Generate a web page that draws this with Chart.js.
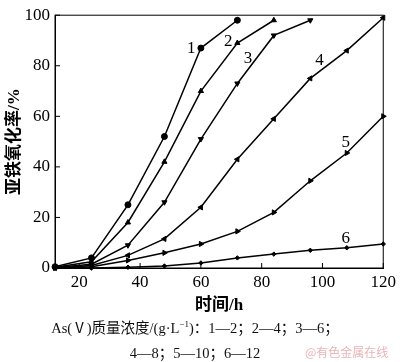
<!DOCTYPE html>
<html>
<head>
<meta charset="utf-8">
<script src="https://cdn.jsdelivr.net/npm/chart.js@4.4.1/dist/chart.umd.min.js"></script>
<style>
  body { margin: 0; background: #fff; }
  #wrap { position: relative; width: 400px; height: 362px; }
  .cap { position: absolute; left: 0; width: 390px; text-align: center; font-family: 'Liberation Serif', 'Noto Sans CJK SC', serif; font-size: 14.5px; color: #111; white-space: nowrap; }
  .cap sup { font-size: 9px; }
  #mark { position: absolute; left: 305px; top: 343px; font-family: 'Noto Sans CJK SC', sans-serif; font-size: 12px; color: #eab4b8; }
</style>
</head>
<body>
<div id="wrap">
  <canvas id="chart" width="400" height="362"></canvas>
  <div class="cap" style="top:316px">As(Ⅴ)质量浓度/(g·L<sup>−1</sup>)：1—2；2—4；3—6；</div>
  <div class="cap" style="top:341px">4—8；5—10；6—12</div>
  <div id="mark">@有色金属在线</div>
</div>
<script>
// time in hours
let hours = [12, 24, 36, 48, 60, 72, 84, 96, 108, 120];
let xTicks = [20, 40, 60, 80, 100, 120];

// ferrous oxidation rate (%) per As(V) concentration
let s1 = [0.5, 4, 25, 52, 87, 98];
let s2 = [0.3, 2.5, 18, 42, 70, 89, 98];
let s3 = [0.2, 1.5, 9, 26, 51, 73, 92, 98];
let s4 = [0, 1, 5, 11.5, 24, 43, 59, 75, 86, 99];
let s5 = [0, 0.5, 3, 6, 9.5, 14.5, 22, 34.5, 45.5, 60];
let s6 = [0, 0, 0.3, 0.8, 2, 4, 5.5, 7, 8, 9.5];

// curve numbers written beside the lines
let tagText = ['1', '2', '3', '4', '5', '6'];
let tagX = [56.8, 69, 75.5, 99, 107.7, 107.7];
let tagY = [86.7, 89.4, 83, 82, 49.6, 11.7];

let serif = "'Liberation Serif', 'Noto Sans CJK SC', serif";
Chart.defaults.font.family = serif;
Chart.defaults.color = '#000';

function pts(vals) {
    return vals.map(function(v, i) { return { x: hours[i], y: v }; });
}

function line(vals, style, rot, r) {
    return {
        data: pts(vals),
        borderColor: '#000',
        backgroundColor: '#000',
        borderWidth: 1.5,
        pointStyle: style,
        rotation: rot,
        pointRadius: r,
        pointBorderWidth: 1,
        clip: false,
        tension: 0
    };
}

let frame = {
    id: 'frame',
    afterDraw: function(chart) {
        let ctx = chart.ctx;
        let a = chart.chartArea;
        let xs = chart.scales.x;
        let ys = chart.scales.y;
        ctx.save();
        ctx.strokeStyle = '#000';
        ctx.lineWidth = 1;
        ctx.strokeRect(a.left, a.top, a.right - a.left, a.bottom - a.top);
        ctx.beginPath();
        xs.ticks.forEach(function(t) {
            let px = xs.getPixelForValue(t.value);
            ctx.moveTo(px, a.bottom);
            ctx.lineTo(px, a.bottom - 5);
        });
        ys.ticks.forEach(function(t) {
            let py = ys.getPixelForValue(t.value);
            ctx.moveTo(a.left, py);
            ctx.lineTo(a.left + 5, py);
        });
        ctx.stroke();
        ctx.font = '17px ' + serif;
        ctx.fillStyle = '#000';
        ctx.textAlign = 'center';
        ctx.textBaseline = 'middle';
        for (let i = 0; i < tagText.length; i++) {
            ctx.fillText(tagText[i], xs.getPixelForValue(tagX[i]), ys.getPixelForValue(tagY[i]));
        }
        ctx.restore();
    }
};

new Chart(document.getElementById('chart'), {
    type: 'line',
    data: {
        datasets: [
            line(s1, 'circle', 0, 3),
            line(s2, 'triangle', 0, 3),
            line(s3, 'triangle', 180, 3),
            line(s4, 'triangle', -90, 3),
            line(s5, 'triangle', 90, 3),
            line(s6, 'rectRot', 0, 2.2)
        ]
    },
    options: {
        responsive: false,
        animation: false,
        layout: { padding: { top: 4, right: 12, bottom: 46, left: 0 } },
        plugins: { legend: { display: false }, tooltip: { enabled: false } },
        scales: {
            x: {
                type: 'linear',
                min: 12,
                max: 120,
                afterBuildTicks: function(s) { s.ticks = xTicks.map(function(v) { return { value: v }; }); },
                afterFit: function(s) { s.height = 48; },
                grid: { drawOnChartArea: false, drawTicks: false },
                border: { color: '#000', width: 1 },
                ticks: { font: { size: 17 }, padding: 4, maxRotation: 0 },
                title: {
                    display: true,
                    text: '时间/h',
                    font: { size: 17, weight: 'bold' },
                    padding: { top: 0, bottom: 0 }
                }
            },
            y: {
                min: 0,
                max: 100,
                afterFit: function(s) { s.width = 55; },
                grid: { drawOnChartArea: false, drawTicks: false },
                border: { color: '#000', width: 1 },
                ticks: { stepSize: 20, font: { size: 17 }, padding: 5 },
                title: {
                    display: true,
                    text: '亚铁氧化率/%',
                    font: { size: 17, weight: 'bold' },
                    padding: { top: 4, bottom: 0 }
                }
            }
        }
    },
    plugins: [frame]
});
</script>
</body>
</html>
